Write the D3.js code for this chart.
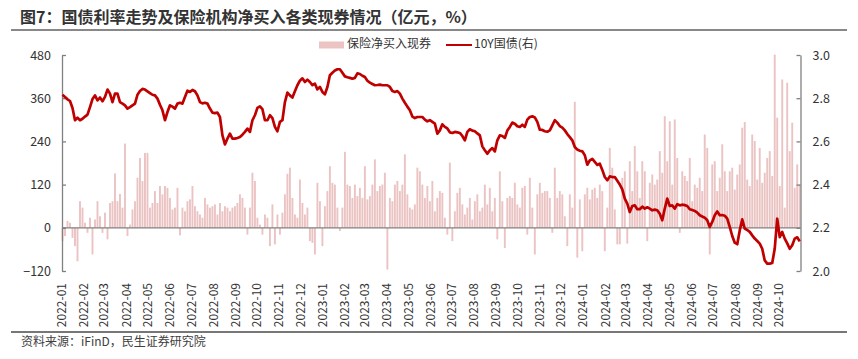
<!DOCTYPE html>
<html><head><meta charset="utf-8">
<script src="https://cdn.jsdelivr.net/npm/d3@7/dist/d3.min.js"></script>
<style>body{margin:0;background:#fff}svg text{font-family:"Noto Sans CJK SC","Noto Sans",sans-serif}</style>
</head><body><svg id="chart" width="858" height="359"></svg>
<script>
const title = "图7：国债利率走势及保险机构净买入各类现券情况（亿元，%）";
const source = "资料来源：iFinD，民生证券研究院";
const seriesNames = ["保险净买入现券", "10Y国债(右)"];
const leftTicks = [-120, 0, 120, 240, 360, 480];
const rightTicks = [2.0, 2.2, 2.4, 2.6, 2.8, 3.0];
const monthLabels = ["2022-01","2022-02","2022-03","2022-04","2022-05","2022-06","2022-07","2022-08","2022-09","2022-10","2022-11","2022-12",
"2023-01","2023-02","2023-03","2023-04","2023-05","2023-06","2023-07","2023-08","2023-09","2023-10","2023-11","2023-12",
"2024-01","2024-02","2024-03","2024-04","2024-05","2024-06","2024-07","2024-08","2024-09","2024-10"];
// 10Y government bond yield (%), sampled twice a week
const yields = [
2.816,2.806,2.795,2.787,2.755,2.698,2.710,2.698,2.705,2.715,
2.724,2.759,2.796,2.813,2.790,2.803,2.786,2.806,2.840,2.821,
2.782,2.821,2.821,2.782,2.775,2.767,2.752,2.759,2.767,2.775,
2.816,2.833,2.843,2.840,2.832,2.824,2.816,2.813,2.798,2.770,
2.744,2.698,2.736,2.767,2.761,2.752,2.775,2.779,2.775,2.806,
2.835,2.829,2.838,2.832,2.813,2.782,2.776,2.779,2.775,2.752,
2.733,2.731,2.733,2.713,2.628,2.586,2.613,2.636,2.613,2.613,
2.616,2.620,2.631,2.644,2.659,2.644,2.698,2.721,2.755,2.762,
2.749,2.698,2.698,2.721,2.708,2.667,2.647,2.690,2.698,2.782,
2.826,2.813,2.803,2.832,2.860,2.881,2.892,2.875,2.886,2.875,
2.861,2.867,2.841,2.852,2.829,2.818,2.852,2.906,2.918,2.928,
2.934,2.934,2.918,2.901,2.897,2.894,2.890,2.894,2.915,2.912,
2.904,2.898,2.881,2.872,2.866,2.860,2.861,2.863,2.860,2.860,
2.860,2.852,2.833,2.829,2.833,2.821,2.798,2.779,2.761,2.744,
2.715,2.708,2.713,2.713,2.713,2.701,2.693,2.698,2.690,2.682,
2.636,2.651,2.679,2.667,2.660,2.642,2.639,2.644,2.642,2.639,
2.625,2.605,2.644,2.656,2.650,2.647,2.637,2.628,2.577,2.559,
2.543,2.559,2.569,2.554,2.605,2.628,2.625,2.616,2.650,2.667,
2.687,2.682,2.670,2.667,2.677,2.667,2.701,2.713,2.716,2.711,
2.690,2.654,2.653,2.647,2.645,2.651,2.674,2.698,2.687,2.671,
2.664,2.651,2.634,2.620,2.605,2.574,2.562,2.557,2.554,2.536,
2.492,2.512,2.519,2.505,2.491,2.497,2.468,2.435,2.420,2.438,
2.435,2.435,2.418,2.400,2.378,2.335,2.312,2.273,2.301,2.304,
2.286,2.286,2.298,2.289,2.295,2.289,2.281,2.284,2.281,2.265,
2.235,2.289,2.335,2.301,2.304,2.289,2.309,2.304,2.307,2.305,
2.301,2.286,2.282,2.278,2.270,2.258,2.252,2.247,2.235,2.204,
2.227,2.258,2.276,2.258,2.259,2.256,2.242,2.204,2.162,2.131,
2.124,2.188,2.239,2.196,2.190,2.181,2.165,2.150,2.139,2.127,
2.103,2.049,2.034,2.034,2.037,2.103,2.242,2.157,2.181,2.150,
2.128,2.103,2.119,2.150,2.156,2.137];
// insurance net purchase of bonds (100m CNY), same sampling
const netBuy = [
-37,-23,19,14,-28,-51,-93,74,56,14,
-14,28,-74,23,74,32,-14,42,-32,69,
74,151,74,94,56,234,-23,9,51,74,
139,194,130,208,208,56,69,102,69,116,
93,116,111,83,51,56,111,-21,56,46,
74,79,116,60,46,37,28,83,65,56,
60,65,37,69,46,60,56,46,56,60,
69,93,83,56,-19,56,153,130,28,9,
-19,37,28,-51,65,-46,37,-19,42,93,
150,167,83,37,28,134,69,37,56,-37,
-42,-74,125,74,-51,60,102,171,125,120,
56,-9,56,211,120,116,83,120,88,111,
83,171,79,88,120,190,102,116,120,153,
-116,83,74,120,130,102,120,204,93,56,
51,65,167,157,120,83,116,74,130,46,
83,102,97,28,-19,181,-37,46,97,111,
65,37,56,83,23,74,93,46,56,120,
65,111,46,83,-32,157,74,-56,83,88,
83,125,65,56,111,116,-19,139,56,-74,
93,125,97,102,102,83,-14,167,83,102,
93,32,-51,93,56,350,-83,79,-65,93,
111,79,106,111,83,120,102,-65,56,222,
167,51,-46,-46,139,157,-44,185,102,227,
157,83,185,157,-37,125,148,120,134,213,
153,310,185,296,120,301,194,-14,157,144,
130,194,74,120,111,139,102,259,222,-74,
176,185,102,139,232,157,102,157,167,106,
148,176,278,294,134,116,259,241,134,222,
125,153,194,213,144,481,306,116,412,56,
403,213,292,111,176,120];

const START = new Date(2022, 0, 1), END = new Date(2024, 10, 1);
const DAY = 864e5;
const dates = yields.map((_, i) => new Date(START.getTime() + (0.7 + 3.5 * i) * DAY));
const monthDates = monthLabels.map(s => new Date(+s.slice(0,4), +s.slice(5,7) - 1, 1));

const svg = d3.select("#chart");
const x = d3.scaleTime().domain([START, END]).range([62, 801]);
const yL = d3.scaleLinear().domain([-120, 480]).range([271, 55]);
const yR = d3.scaleLinear().domain([2.0, 3.0]).range([271, 55]);
const BAR = "#EBC3C3", LINE = "#C00000", AX = "#808080", TXT = "#333";

// title & rules
svg.append("text").attr("x", 20).attr("y", 19).attr("font-size", 16).attr("font-weight", "bold")
  .attr("fill", "#333").attr("dominant-baseline", "middle").text(title);
svg.append("line").attr("x1", 11).attr("x2", 847).attr("y1", 30).attr("y2", 30).attr("stroke", "#888").attr("stroke-width", 2);
svg.append("line").attr("x1", 11).attr("x2", 847).attr("y1", 332).attr("y2", 332).attr("stroke", "#777").attr("stroke-width", 2);
svg.append("text").attr("x", 21).attr("y", 343).attr("font-size", 12).attr("fill", "#404040")
  .attr("dominant-baseline", "middle").text(source);

// legend
svg.append("rect").attr("x", 319).attr("y", 41.5).attr("width", 25).attr("height", 7).attr("fill", BAR);
svg.append("text").attr("x", 347).attr("y", 45).attr("font-size", 12).attr("fill", TXT).attr("dominant-baseline", "middle").text(seriesNames[0]);
svg.append("line").attr("x1", 446).attr("x2", 472).attr("y1", 45).attr("y2", 45).attr("stroke", LINE).attr("stroke-width", 2);
svg.append("text").attr("x", 474).attr("y", 45).attr("font-size", 12).attr("fill", TXT).attr("dominant-baseline", "middle").text(seriesNames[1]);

// bars
svg.append("g").selectAll("rect").data(netBuy).join("rect")
  .attr("x", (d, i) => x(dates[i]) - 0.95).attr("width", 1.9)
  .attr("y", d => yL(Math.max(0, d))).attr("height", d => Math.abs(yL(d) - yL(0)))
  .attr("fill", BAR);

// zero line
svg.append("line").attr("x1", 62).attr("x2", 800.5).attr("y1", yL(0)).attr("y2", yL(0)).attr("stroke", AX).attr("stroke-width", 1.3);

// axes
const gL = svg.append("g").attr("transform", "translate(62,0)")
  .call(d3.axisLeft(yL).tickValues(leftTicks).tickSizeInner(-4).tickSizeOuter(0).tickPadding(11).tickFormat(d3.format("d")));
const gR = svg.append("g").attr("transform", "translate(800.5,0)")
  .call(d3.axisRight(yR).tickValues(rightTicks).tickSizeInner(-4).tickSizeOuter(0).tickPadding(12).tickFormat(d3.format(".1f")));
[gL, gR].forEach(g => {
  g.select(".domain").attr("stroke", AX).attr("stroke-width", 1.3);
  g.selectAll(".tick line").attr("stroke", AX).attr("stroke-width", 1.3);
  g.selectAll(".tick text").attr("font-size", 12.5).attr("fill", TXT).attr("font-family", '"Noto Sans CJK SC","Noto Sans",sans-serif');
});

// month labels
svg.append("g").selectAll("text").data(monthLabels).join("text")
  .attr("transform", (d, i) => `translate(${x(monthDates[i]) + 1},283) rotate(-90)`)
  .attr("text-anchor", "end").attr("dominant-baseline", "middle")
  .attr("font-size", 12).attr("fill", TXT).text(d => d);

// yield line
svg.append("path").datum(yields)
  .attr("d", d3.line().x((d, i) => x(dates[i])).y(d => yR(d)))
  .attr("fill", "none").attr("stroke", LINE).attr("stroke-width", 2.7).attr("stroke-linejoin", "round");
</script></body></html>
